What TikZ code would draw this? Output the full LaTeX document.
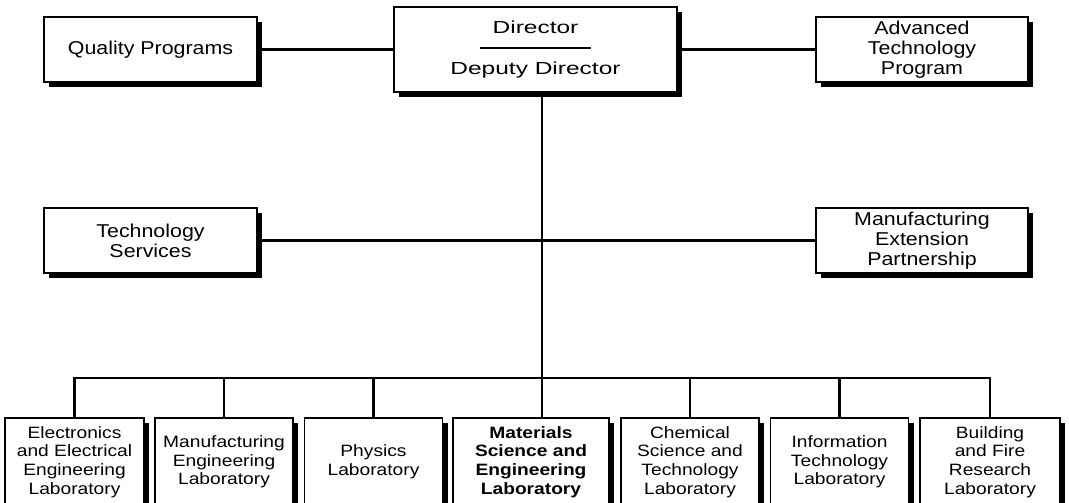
\documentclass[tikz,border=0pt]{standalone}
\usepackage{fontspec}
\setmainfont{Liberation Sans}[FakeStretch=1.15]
\newfontfamily\dirfont{Liberation Sans}[FakeStretch=1.4]
\newfontfamily\labfont{Liberation Sans}[FakeStretch=1.17]
\usetikzlibrary{positioning,shadows}
\tikzset{
  orgBox/.style={draw=black, line width=1.4pt, fill=white, align=center, inner sep=2pt,
    drop shadow={shadow xshift=5pt, shadow yshift=-5pt, fill=black, opacity=1},
    font=\fontsize{18.6}{20}\selectfont},
  labBox/.style={orgBox, minimum width=138pt, minimum height=88pt, font=\labfont\fontsize{16.4}{18.6}\selectfont},
  orgLine/.style={line width=2.5pt, draw=black}
}
\begin{document}
\begin{tikzpicture}[x=1pt, y=-1pt]
  \useasboundingbox (0,0) rectangle (1069,503);
  \node[orgBox, minimum width=213pt, minimum height=65pt] (qp) at (150.5,49.5) {Quality Programs};
  \node[orgBox, minimum width=283pt, minimum height=85pt, font=\dirfont\fontsize{17.5}{20}\selectfont] (dir) at (535.5,49.5)
    {Director\\[-5pt]\rule{111pt}{2pt}\\[6pt]Deputy Director};
  \node[orgBox, minimum width=212pt, minimum height=65pt] (atp) at (922,49.5) {Advanced\\Technology\\Program};
  \node[orgBox, minimum width=213pt, minimum height=65pt] (ts) at (150.5,240.5) {Technology\\Services};
  \node[orgBox, minimum width=212pt, minimum height=65pt] (mep) at (922,240.5) {Manufacturing\\Extension\\Partnership};

  \node[labBox, minimum width=139pt] (eeel) at (74.5,462) {Electronics\\and Electrical\\Engineering\\Laboratory};
  \node[labBox] (mel) at (224,462) {Manufacturing\\Engineering\\Laboratory};
  \node[labBox] (pl) at (373.5,462) {Physics\\Laboratory};
  \node[labBox, minimum width=156pt, font=\labfont\fontsize{16.4}{18.6}\selectfont\bfseries] (msel) at (531,462) {Materials\\Science and\\Engineering\\Laboratory};
  \node[labBox] (cstl) at (690,462) {Chemical\\Science and\\Technology\\Laboratory};
  \node[labBox] (itl) at (839.5,462) {Information\\Technology\\Laboratory};
  \node[labBox, minimum width=140pt] (bfrl) at (990,462) {Building\\and Fire\\Research\\Laboratory};

  \coordinate (bus) at (542,378);
  \draw[orgLine] (qp.east) -- (dir.west);
  \draw[orgLine] (dir.east) -- (atp.west);
  \draw[orgLine] (ts.east) -- (mep.west);
  \draw[orgLine] (dir.south -| bus) -- (msel.north -| bus);
  \draw[orgLine] (eeel.north) -- (eeel.north |- bus) -- (bfrl.north |- bus) -- (bfrl.north);
  \foreach \lab in {mel,pl,cstl,itl}
    \draw[orgLine] (\lab.north |- bus) -- (\lab.north);
\end{tikzpicture}
\end{document}
